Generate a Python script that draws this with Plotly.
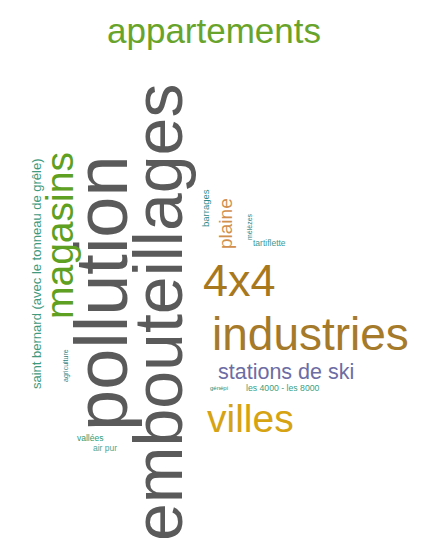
import plotly.graph_objects as go

# Word cloud data: words and their weights (weight -> font size)
words = ["appartements", "embouteillages", "pollution", "magasins",
         "saint bernard (avec le tonneau de grêle)", "agriculture",
         "vallées", "air pur", "barrages", "plaine", "mélèzes", "tartiflette",
         "4x4", "industries", "stations de ski", "génépi",
         "les 4000 - les 8000", "villes"]
weights = [35, 68, 74, 39, 13, 7, 8.5, 8.5, 9.5, 19, 7, 8.5,
           45, 46, 21.5, 6, 8.7, 39]

# layout of the cloud (placement of each word, in pixel units of the axes)
pos_x = [206, 150, 93, 51, 28, 58, 82, 97, 197, 217, 241, 261,
         231, 302, 278, 211, 275, 242]
pos_y = [22, 305, 285, 228, 266, 358, 430, 440, 200, 216, 219, 235,
         272, 326, 364, 380, 380, 410]
angles = [0, -90, -90, -90, -90, -90, 0, 0, -90, -90, -90, 0,
          0, 0, 0, 0, 0, 0]
colors = ["#68a42c", "#5a5a5a", "#5a5a5a", "#5ea021",
          "#3f9a7e", "#2f8080", "#2e9c74", "#4aa89a", "#2b8a8a", "#d18f4e",
          "#2f7e7e", "#3c9a96", "#a8781f", "#a57a2a", "#6d6ca3", "#2c8a68",
          "#3aa080", "#d6a313"]

fig = go.Figure()
fig.add_trace(go.Scatter(x=[0, 422], y=[0, 540], mode="markers",
                         marker=dict(opacity=0), hoverinfo="skip",
                         showlegend=False))

for w, s, x, y, a, c in zip(words, weights, pos_x, pos_y, angles, colors):
    fig.add_annotation(x=x, y=y, xref="x", yref="y", text=w, showarrow=False,
                       textangle=a, xanchor="center", yanchor="middle",
                       font=dict(family="Liberation Sans, Arial", size=s, color=c))

fig.update_xaxes(range=[0, 422], visible=False, fixedrange=True)
fig.update_yaxes(range=[540, 0], visible=False, fixedrange=True)
fig.update_layout(width=422, height=540, margin=dict(l=0, r=0, t=0, b=0),
                  paper_bgcolor="white", plot_bgcolor="white")

fig.write_html("out.html")
